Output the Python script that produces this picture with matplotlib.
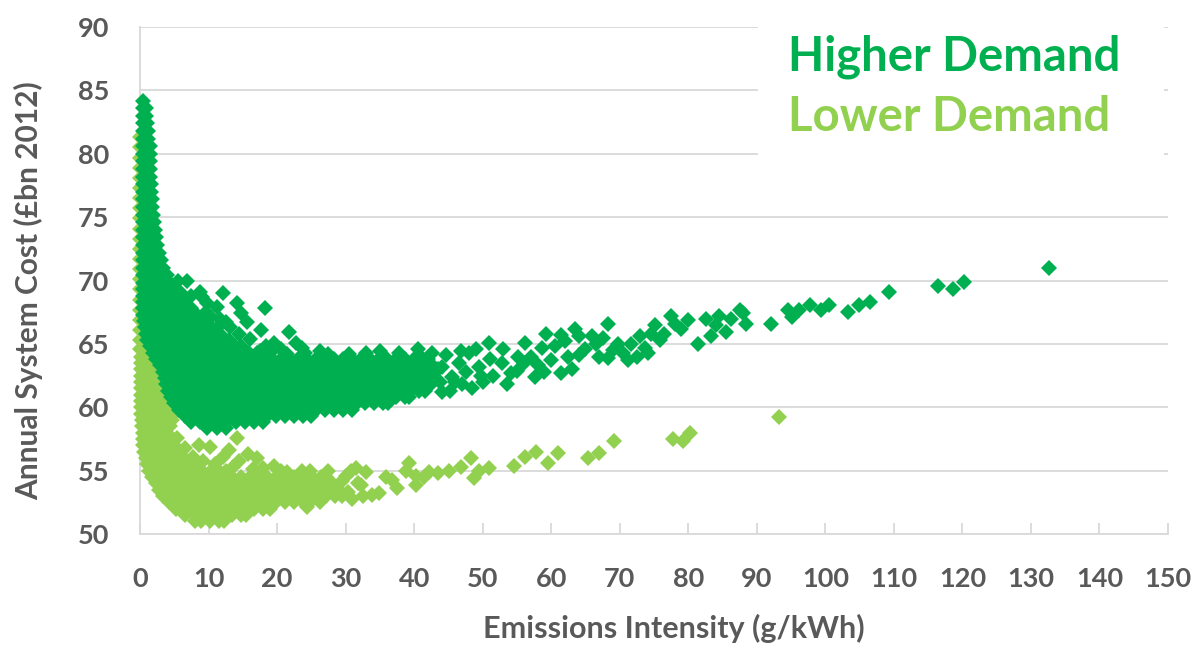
import matplotlib
matplotlib.use("Agg")
import matplotlib.pyplot as plt
from matplotlib.patches import Rectangle

plt.rcParams['font.family'] = ['Lato', 'DejaVu Sans']

HI_COL = '#00B050'
LO_COL = '#92D050'
GREY = '#595959'
GRID = '#D9D9D9'

# ---- Higher Demand: dense part read row by row (y, then x values in that row)
hi_rows_y = [84.2, 83.6, 83.0, 82.4, 81.8, 81.2, 80.6, 80.0, 79.4, 78.8, 78.2, 77.6,
             77.0, 76.4, 75.8, 75.2, 74.6, 74.0, 73.4, 72.8, 72.2, 71.6, 71.0, 70.4,
             69.8, 69.3, 68.8, 68.3, 67.8, 67.3, 66.8, 66.3, 65.8, 65.3, 64.8, 64.3,
             63.8, 63.3, 62.8, 62.3, 61.8, 61.3, 60.8, 60.3, 59.8, 59.3, 58.8, 58.4]
hi_rows_x = [
    [0.5], [0.5, 0.8], [0.5, 0.9], [0.5, 1.0], [0.5, 0.9, 1.1], [0.5, 0.9, 1.2],
    [0.5, 1.0, 1.4], [0.5, 1.0, 1.5], [0.5, 1.0, 1.5], [0.5, 1.0, 1.5], [0.5, 1.0, 1.5],
    [0.5, 1.0, 1.6], [0.5, 1.1, 1.6], [0.5, 1.1, 1.7], [0.5, 1.1, 1.8], [0.5, 1.2, 1.9],
    [0.5, 1.2, 2.0], [0.5, 1.2, 1.8, 2.2], [0.5, 1.2, 1.9, 2.4], [0.5, 1.2, 1.9, 2.5],
    [0.5, 1.2, 2.0, 2.7], [0.5, 1.3, 2.1, 2.8, 3.1], [0.5, 1.3, 2.1, 2.9, 3.4],
    [0.5, 1.3, 2.1, 2.9, 3.6, 4.0],
    [0.5, 1.6, 2.7, 3.6, 4.4],
    [0.5, 1.3, 2.3, 3.3, 4.2, 4.9],
    [0.5, 1.7, 2.9, 4.0, 5.0, 5.6],
    [0.5, 1.2, 2.4, 3.6, 4.8, 5.8, 6.5],
    [0.5, 1.8, 3.1, 4.4, 5.6, 6.7, 7.4],
    [0.5, 1.2, 2.5, 3.8, 5.0, 6.2, 7.4, 8.3],
    [0.6, 1.9, 3.2, 4.5, 5.8, 7.0, 8.2, 9.3],
    [0.7, 1.3, 2.6, 3.9, 5.2, 6.5, 7.7, 8.9, 10.3],
    [0.9, 2.0, 3.3, 4.6, 5.9, 7.2, 8.5, 9.8, 11.0, 11.6],
    [1.0, 1.6, 2.8, 4.0, 5.3, 6.6, 7.9, 9.2, 10.5, 11.8, 13.0],
    [1.4, 2.3, 3.6, 4.8, 6.1, 7.4, 8.7, 10.0, 11.3, 12.6, 13.9, 14.8],
    [1.9, 3.0, 4.2, 5.5, 6.8, 8.1, 9.4, 10.7, 12.0, 13.3, 14.6, 15.9, 17.0],
    [2.4, 3.7, 4.9, 6.2, 7.5, 8.8, 10.1, 11.4, 12.7, 14.0, 15.3, 16.6, 17.9, 19.2, 20.5,
     21.8, 23.1, 24.4, 25.7, 27.0, 28.3, 29.6, 30.9, 32.2, 33.5, 34.8, 36.1, 37.4, 38.7,
     40.0, 41.3, 42.0],
    [2.9, 4.3, 5.6, 6.9, 8.2, 9.5, 10.8, 12.1, 13.4, 14.7, 16.0, 17.3, 18.6, 19.9, 21.2,
     22.5, 23.8, 25.1, 26.4, 27.7, 29.0, 30.3, 31.6, 32.9, 34.2, 35.5, 36.8, 38.1, 39.4,
     40.7, 42.0, 42.6],
    [3.3, 4.9, 6.2, 7.5, 8.8, 10.1, 11.4, 12.7, 14.0, 15.3, 16.6, 17.9, 19.2, 20.5, 21.8,
     23.1, 24.4, 25.7, 27.0, 28.3, 29.6, 30.9, 32.2, 33.5, 34.8, 36.1, 37.4, 38.7, 40.0,
     41.3, 42.6, 43.1],
    [3.6, 4.3, 5.6, 6.9, 8.2, 9.5, 10.8, 12.1, 13.4, 14.7, 16.0, 17.3, 18.6, 19.9, 21.2,
     22.5, 23.8, 25.1, 26.4, 27.7, 29.0, 30.3, 31.6, 32.9, 34.2, 35.5, 36.8, 38.1, 39.4,
     40.7, 42.0, 43.0],
    [3.8, 4.9, 6.2, 7.5, 8.8, 10.1, 11.4, 12.7, 14.0, 15.3, 16.6, 17.9, 19.2, 20.5, 21.8,
     23.1, 24.4, 25.7, 27.0, 28.3, 29.6, 30.9, 32.2, 33.5, 34.8, 36.1, 37.4, 38.7, 40.0,
     41.3, 42.5],
    [4.1, 5.6, 6.9, 8.2, 9.5, 10.8, 12.1, 13.4, 14.7, 16.0, 17.3, 18.6, 19.9, 21.2, 22.5,
     23.8, 25.1, 26.4, 27.7, 29.0, 30.3, 31.6, 32.9, 34.2, 35.5, 36.8, 38.1, 39.4, 40.7,
     41.6],
    [4.5, 6.2, 7.5, 8.8, 10.1, 11.4, 12.7, 14.0, 15.3, 16.6, 17.9, 19.2, 20.5, 21.8, 23.1,
     24.4, 25.7, 27.0, 28.3, 29.6, 30.9, 32.2, 33.5, 34.8, 36.1, 37.4, 38.7, 39.2],
    [5.0, 5.6, 6.9, 8.2, 9.5, 10.8, 12.1, 13.4, 14.7, 16.0, 17.3, 18.6, 19.9, 21.2, 22.5,
     23.8, 25.1, 26.4, 27.7, 29.0, 30.3, 31.6, 32.9, 34.2, 35.5, 36.2],
    [5.7, 6.2, 7.5, 8.8, 10.1, 11.4, 12.7, 14.0, 15.3, 16.6, 17.9, 19.2, 20.5, 21.8, 23.1,
     24.4, 25.7, 27.0, 28.3, 29.6, 30.9],
    [6.5, 6.9, 8.2, 9.5, 10.8, 12.1, 13.4, 14.7, 16.0, 17.3, 18.6, 19.9, 21.2, 22.5, 23.8,
     25.0],
    [7.5, 8.8, 10.1, 11.4, 12.7, 14.0, 15.3, 16.6, 17.9],
    [9.8, 11.2, 12.5],
]

# ---- Higher Demand: separate points
hi_x = [5.5, 6.8, 5.8, 8.7, 12.1, 7.4, 9.0, 9.7, 11.2, 14.2, 18.2, 14.8, 9.6, 10.3,
        11.6, 12.6, 15.6, 13.1, 17.7, 11.4, 14.5, 16.0, 19.6, 21.8, 18.4, 20.5, 22.8,
        23.7, 26.2, 24.0, 27.5, 30.5, 33.0, 35.0, 37.8, 40.5, 19.0, 21.5, 17.5,
        42.6, 44.6, 45.5, 48.0, 49.4, 50.9, 52.8, 54.2, 55.2, 56.2, 57.7, 58.6, 59.3,
        60.0, 61.5, 61.5, 64.0, 64.0, 65.9, 68.3, 69.8, 71.2, 71.7, 73.7, 74.1, 74.6,
        75.1, 75.9, 68.3, 77.5, 79.0, 80.0, 81.4, 82.6, 83.3, 84.0, 85.5, 86.2, 87.6,
        88.4, 92.0, 94.5, 95.2, 96.2, 97.7, 99.3, 100.6, 103.3, 104.9, 106.5, 109.3,
        116.4, 118.7, 120.2, 132.7,
        43.5, 44.0, 46.5, 47.0, 47.5, 48.5, 50.0, 51.0, 51.5, 53.0, 53.5, 55.0, 56.0,
        57.0, 58.0, 59.0, 60.5, 62.5, 63.0, 62.0, 63.5, 65.0, 66.5, 67.0, 67.5, 69.0,
        70.5, 72.5, 73.0, 76.5, 78.0, 84.5, 88.0, 42.8, 44.0, 46.0, 46.8, 49.0, 49.8,
        45.3, 43.8]
hi_y = [70.0, 70.0, 69.1, 69.1, 69.0, 68.8, 68.7, 68.2, 67.9, 68.2, 67.8, 67.4, 67.5, 67.1,
        67.0, 66.7, 66.7, 66.3, 66.1, 66.3, 65.8, 65.4, 65.1, 65.9, 64.8, 64.6, 65.1,
        64.7, 64.4, 64.3, 64.2, 64.2, 64.3, 64.4, 64.3, 64.6, 64.3, 64.2, 64.4,
        64.3, 64.1, 62.4, 64.3, 63.2, 65.1, 63.5, 62.7, 64.0, 65.1, 62.4, 64.7, 65.8,
        63.7, 65.7, 62.7, 65.6, 64.1, 65.6, 63.9, 65.0, 63.7, 65.0, 64.7, 64.3, 65.8,
        66.5, 65.3, 66.6, 67.2, 66.2, 66.9, 65.0, 67.0, 65.6, 66.5, 65.9, 67.0, 67.7,
        66.6, 66.6, 67.7, 67.1, 67.7, 68.1, 67.7, 68.1, 67.5, 68.1, 68.3, 69.1,
        69.6, 69.3, 69.9, 71.0,
        63.0, 61.2, 63.5, 61.8, 62.8, 61.5, 62.0, 63.8, 62.5, 64.6, 61.8, 62.9, 63.5,
        64.0, 63.3, 62.8, 64.8, 64.0, 63.0, 65.2, 66.2, 64.6, 65.0, 64.0, 65.5, 64.5,
        64.3, 64.0, 65.6, 65.8, 66.6, 67.2, 67.4, 62.8, 63.2, 62.0, 64.4, 64.6, 62.5,
        61.3, 62.0]

# ---- Lower Demand: dense part, row by row
lo_rows_y = [64.0, 63.5, 63.0, 62.5, 62.0, 61.5, 61.0, 60.5, 60.0, 59.5, 59.0, 58.5,
             58.0, 57.5, 57.0, 56.5, 56.0, 55.5, 55.0, 54.5, 54.0, 53.5, 53.0, 52.5,
             52.0, 51.5, 51.0]
lo_rows_x = [
    [0.1, 0.9, 1.5], [0.1, 0.9, 1.8], [0.1, 1.0, 2.0, 2.6], [0.1, 1.0, 2.0, 2.9],
    [0.1, 1.0, 2.0, 3.0], [0.2, 1.2, 2.2, 3.2], [0.2, 1.2, 2.3, 3.4],
    [0.2, 1.3, 2.4, 3.5, 4.3], [0.2, 1.3, 2.5, 3.7, 4.7], [0.2, 1.4, 2.6, 3.8, 4.8],
    [0.3, 1.4, 2.6, 3.8, 4.6], [0.3, 1.5, 2.7, 3.8, 4.4], [0.4, 1.6, 2.8, 3.9],
    [0.4, 1.6, 2.8, 3.9], [0.5, 1.7, 2.9, 4.1, 5.0], [0.6, 1.8, 3.0, 4.2, 5.2],
    [0.8, 2.0, 3.2, 4.4, 5.6, 6.4], [1.0, 2.2, 3.4, 4.6, 5.8, 7.0, 8.0],
    [1.3, 2.5, 3.8, 5.1, 6.4, 7.7, 9.0, 10.3, 11.5, 12.6],
    [1.8, 3.0, 4.3, 5.6, 6.9, 8.2, 9.5, 10.8, 12.1, 13.4, 14.7, 16.0, 17.3, 18.6, 19.9,
     21.2, 22.5, 23.8, 25.1, 26.4, 27.2],
    [2.3, 3.7, 5.0, 6.3, 7.6, 8.9, 10.2, 11.5, 12.8, 14.1, 15.4, 16.7, 18.0, 19.3, 20.6,
     21.9, 23.2, 24.5, 25.8, 27.1, 28.0],
    [2.8, 4.3, 5.6, 6.9, 8.2, 9.5, 10.8, 12.1, 13.4, 14.7, 16.0, 17.3, 18.6, 19.9, 21.2,
     22.5, 23.8, 25.1, 26.4, 27.7, 29.0],
    [3.3, 5.0, 6.3, 7.6, 8.9, 10.2, 11.5, 12.8, 14.1, 15.4, 16.7, 18.0, 19.3, 20.6, 21.9,
     23.2, 24.5, 25.8, 27.1, 28.4, 29.5],
    [4.2, 5.6, 6.9, 8.2, 9.5, 10.8, 12.1, 13.4, 14.7, 16.0, 17.3, 18.6, 19.9, 21.2, 22.5,
     23.8, 24.8],
    [5.2, 6.3, 7.6, 8.9, 10.2, 11.5, 12.8, 14.1, 15.4, 16.7, 18.0, 19.0],
    [6.5, 8.2, 9.5, 10.8, 12.1, 13.4, 14.7, 15.4],
    [8.0, 8.9, 10.2, 11.5, 12.2],
]

# ---- Lower Demand: separate points
lo_x = [0.05, 0.0, 0.05, 0.0, 0.05, 0.0, 0.05, 0.0, 0.05, 0.0, 0.05, 0.0, 0.05, 0.0,
        0.05, 0.0, 0.05, 0.0, 0.05, 0.0, 0.05, 0.0,
        5.4, 6.5, 7.7, 8.6, 10.2, 9.2, 11.0, 12.1, 13.0, 14.2, 14.5, 15.8, 17.0, 19.6,
        21.4, 23.7, 18.0, 20.5, 16.5, 13.5, 24.8,
        24.3, 26.2, 27.5, 29.5, 30.0, 30.3, 30.8, 31.0, 31.5, 31.8, 32.3, 32.5, 33.0,
        33.8, 34.9, 35.9, 36.8, 37.5, 38.8, 39.2, 40.3, 40.3, 41.5, 42.2, 43.5, 45.1,
        46.8, 48.3, 48.7, 49.5, 50.9, 54.5, 56.2, 57.8, 59.6, 61.0, 65.4, 66.9, 69.2,
        77.8, 79.2, 80.2, 93.3]
lo_y = [81.3, 80.5, 79.7, 78.9, 78.1, 77.3, 76.5, 75.7, 74.9, 74.1, 73.3, 72.5, 71.7, 70.9,
        70.1, 69.3, 68.5, 67.7, 66.9, 66.1, 65.3, 64.6,
        57.6, 56.8, 56.1, 57.0, 56.9, 55.8, 55.5, 56.1, 56.6, 57.6, 55.8, 56.3, 56.0, 55.4,
        54.9, 55.0, 55.2, 55.0, 55.1, 55.3, 55.0,
        52.1, 52.5, 55.0, 54.2, 54.6, 53.3, 55.0, 52.8, 55.2, 54.0, 53.9, 53.0, 54.9,
        53.1, 53.2, 54.5, 54.3, 53.6, 55.0, 55.6, 53.9, 54.6, 54.5, 54.9, 54.8, 55.0,
        55.3, 56.0, 54.4, 55.0, 55.2, 55.4, 56.1, 56.5, 55.6, 56.4, 56.0, 56.4, 57.3,
        57.5, 57.3, 58.0, 59.2]


def gather(rows_y, rows_x, xs, ys):
    px = [x for row in rows_x for x in row] + list(xs)
    py = [y for y, row in zip(rows_y, rows_x) for _ in row] + list(ys)
    return px, py


hx, hy = gather(hi_rows_y, hi_rows_x, hi_x, hi_y)
lx, ly = gather(lo_rows_y, lo_rows_x, lo_x, lo_y)

fig = plt.figure(figsize=(12.04, 6.51), dpi=100)
ax = fig.add_axes([0.1163, 0.1797, 0.8538, 0.7788])

MS = 7.8
ax.plot(lx, ly, 'D', color=LO_COL, ms=MS, mew=0, clip_on=False, zorder=3)
ax.plot(hx, hy, 'D', color=HI_COL, ms=MS, mew=0, clip_on=False, zorder=4)

ax.set_xlim(0, 150)
ax.set_ylim(50, 90)
ax.set_xticks(range(0, 151, 10))
ax.set_yticks(range(50, 91, 5))
ax.grid(axis='y', color=GRID, lw=1.3)
ax.set_axisbelow(True)
for s in ['top', 'right']:
    ax.spines[s].set_visible(False)
for s in ['left', 'bottom']:
    ax.spines[s].set_color(GRID)
    ax.spines[s].set_linewidth(1.3)

ax.tick_params(axis='x', direction='in', length=8, width=1.3, color=GRID,
               pad=24, labelsize=19.5, labelcolor=GREY)
ax.tick_params(axis='y', length=0, pad=22, labelsize=19.5, labelcolor=GREY)
for lab in ax.get_xticklabels() + ax.get_yticklabels():
    lab.set_fontweight('bold')

ax.set_xlabel('Emissions Intensity (g/kWh)', fontsize=22, fontweight='bold', color=GREY)
ax.set_ylabel('Annual System Cost (£bn 2012)', fontsize=21.5, fontweight='bold', color=GREY)
ax.xaxis.set_label_coords(0.519, -0.158)
ax.yaxis.set_label_coords(-0.094, 0.481)

# white legend panel over the grid, top right
ax.add_patch(Rectangle((90.2, 78.6), 59.2, 12.4, facecolor='white', edgecolor='none',
                       zorder=2, clip_on=False))
ax.text(94.6, 86.6, 'Higher Demand', color=HI_COL, fontsize=34, fontweight='bold',
        va='baseline', ha='left', zorder=5)
ax.text(94.6, 81.8, 'Lower Demand', color=LO_COL, fontsize=34, fontweight='bold',
        va='baseline', ha='left', zorder=5)

fig.savefig('out.png', dpi=100)
